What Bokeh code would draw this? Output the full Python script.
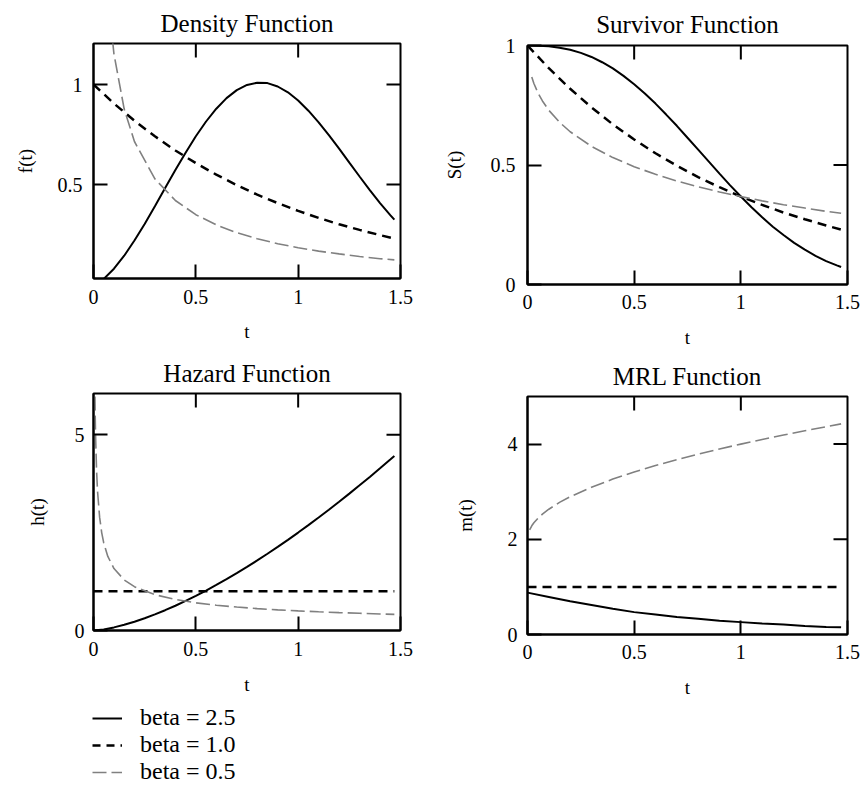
import math
from bokeh.plotting import figure
from bokeh.layouts import column, row
from bokeh.models import (FixedTicker, LinearAxis, Range1d, Legend, LegendItem,
                          CustomJSTickFormatter)
from bokeh.embed import file_html
from bokeh.resources import INLINE

# ---------------- data ----------------
t = [0.0, 0.1, 0.2, 0.3, 0.4, 0.5, 0.6, 0.7, 0.8, 0.9, 1.0, 1.1, 1.2, 1.3, 1.4, 1.47]
t_fine = [0.0, 0.05, 0.1, 0.15, 0.2, 0.25, 0.3, 0.35, 0.4, 0.45, 0.5, 0.55, 0.6,
          0.65, 0.7, 0.75, 0.8, 0.85, 0.9, 0.95, 1.0, 1.05, 1.1, 1.15, 1.2, 1.25,
          1.3, 1.35, 1.4, 1.45, 1.47]

# Density f(t)
f_b25 = [0.0, 0.028, 0.079, 0.144, 0.220, 0.303, 0.391, 0.482, 0.572, 0.659,
         0.741, 0.815, 0.879, 0.932, 0.972, 0.998, 1.009, 1.007, 0.990, 0.961,
         0.920, 0.869, 0.811, 0.747, 0.679, 0.609, 0.540, 0.472, 0.407, 0.347, 0.324]
f_b10 = [1.0, 0.905, 0.819, 0.741, 0.670, 0.607, 0.549, 0.497, 0.449, 0.407,
         0.368, 0.333, 0.301, 0.273, 0.247, 0.230]
t_f_b05 = [0.05, 0.07, 0.1, 0.15, 0.2, 0.3, 0.4, 0.5, 0.6, 0.7, 0.8, 0.9,
           1.0, 1.1, 1.2, 1.3, 1.4, 1.47]
f_b05 = [1.788, 1.450, 1.152, 0.877, 0.715, 0.528, 0.420, 0.349, 0.298, 0.259,
         0.229, 0.204, 0.184, 0.167, 0.153, 0.140, 0.129, 0.123]

# Survivor S(t)
S_b25 = [1.0, 0.999, 0.997, 0.991, 0.982, 0.969, 0.952, 0.930, 0.904, 0.873,
         0.838, 0.799, 0.757, 0.711, 0.664, 0.614, 0.564, 0.514, 0.464, 0.415,
         0.368, 0.323, 0.281, 0.242, 0.207, 0.174, 0.146, 0.120, 0.098, 0.080, 0.073]
S_b10 = [1.0, 0.905, 0.819, 0.741, 0.670, 0.607, 0.549, 0.497, 0.449, 0.407,
         0.368, 0.333, 0.301, 0.273, 0.247, 0.230]
t_S_b05 = [0.02, 0.03, 0.05, 0.07, 0.1, 0.15, 0.2, 0.3, 0.4, 0.5, 0.6, 0.7,
           0.8, 0.9, 1.0, 1.1, 1.2, 1.3, 1.4, 1.47]
S_b05 = [0.868, 0.841, 0.800, 0.768, 0.729, 0.679, 0.639, 0.578, 0.531, 0.493,
         0.461, 0.433, 0.409, 0.387, 0.368, 0.350, 0.334, 0.320, 0.306, 0.298]

# Hazard h(t)
h_b25 = [0.0, 0.028, 0.079, 0.145, 0.224, 0.313, 0.411, 0.518, 0.632, 0.755,
         0.884, 1.020, 1.162, 1.310, 1.464, 1.624, 1.789, 1.959, 2.134, 2.315,
         2.500, 2.690, 2.884, 3.083, 3.286, 3.494, 3.706, 3.921, 4.141, 4.365, 4.456]
h_b10 = [1.0, 1.0, 1.0, 1.0, 1.0, 1.0, 1.0, 1.0, 1.0, 1.0,
         1.0, 1.0, 1.0, 1.0, 1.0, 1.0]
t_h_b05 = [0.006, 0.008, 0.01, 0.015, 0.02, 0.03, 0.04, 0.05, 0.07, 0.1, 0.15,
           0.2, 0.3, 0.4, 0.5, 0.6, 0.7, 0.8, 0.9, 1.0, 1.1, 1.2, 1.3, 1.4, 1.47]
h_b05 = [6.455, 5.590, 5.0, 4.082, 3.536, 2.887, 2.5, 2.236, 1.890, 1.581, 1.291,
         1.118, 0.913, 0.791, 0.707, 0.645, 0.598, 0.559, 0.527, 0.500, 0.477,
         0.456, 0.439, 0.423, 0.412]

# Mean residual life m(t)
m_b25 = [0.88, 0.79, 0.70, 0.62, 0.54, 0.47, 0.42, 0.37, 0.33, 0.29,
         0.26, 0.23, 0.21, 0.18, 0.16, 0.15]
m_b10 = [1.0, 1.0, 1.0, 1.0, 1.0, 1.0, 1.0, 1.0, 1.0, 1.0,
         1.0, 1.0, 1.0, 1.0, 1.0, 1.0]
t_m_b05 = [0.01, 0.02, 0.03, 0.05, 0.07, 0.1, 0.15, 0.2, 0.3, 0.4, 0.5, 0.6,
           0.7, 0.8, 0.9, 1.0, 1.1, 1.2, 1.3, 1.4, 1.47]
m_b05 = [2.200, 2.283, 2.346, 2.447, 2.529, 2.632, 2.775, 2.894, 3.095, 3.265,
         3.414, 3.549, 3.673, 3.789, 3.897, 4.000, 4.098, 4.191, 4.280, 4.366, 4.425]

x_ticks = [0, 0.5, 1, 1.5]
legend_labels = ["beta = 2.5", "beta = 1.0", "beta = 0.5"]

# ---------------- styling ----------------
FONT = "Liberation Serif"
S25 = dict(line_color="black", line_width=2)
S10 = dict(line_color="black", line_width=2.5, line_dash="9 6")
S05 = dict(line_color="#808080", line_width=1.6, line_dash="14 5")
TICK_LEN = 14

fmt = CustomJSTickFormatter(code="return tick.toString();")


def style_axis(ax, label_standoff, axis_label_standoff):
    ax.axis_line_width = 2
    ax.axis_line_color = "black"
    ax.major_tick_in = TICK_LEN
    ax.major_tick_out = 0
    ax.major_tick_line_width = 2
    ax.minor_tick_in = 0
    ax.minor_tick_out = 0
    ax.major_label_text_font = FONT
    ax.major_label_text_font_size = "20px"
    ax.major_label_text_color = "black"
    ax.major_label_standoff = label_standoff
    ax.axis_label_text_font = FONT
    ax.axis_label_text_font_size = "19px"
    ax.axis_label_text_font_style = "normal"
    ax.axis_label_text_color = "black"
    ax.axis_label_standoff = axis_label_standoff


def panel(title, ylabel, yr, yticks, inner_yticks, w, h, bl, br, bt, bb,
          title_standoff, xs, xls, ys, yls):
    p = figure(width=w, height=h, x_range=Range1d(0, 1.5), y_range=Range1d(*yr),
               toolbar_location=None, output_backend="svg",
               x_axis_location=None, y_axis_location=None,
               min_border_left=bl, min_border_right=br,
               min_border_top=bt, min_border_bottom=bb, title=title)
    p.title.align = "center"
    p.title.text_font = FONT
    p.title.text_font_size = "25px"
    p.title.text_font_style = "normal"
    p.title.text_color = "black"
    p.title.standoff = title_standoff
    p.xgrid.visible = False
    p.ygrid.visible = False
    p.outline_line_color = "black"
    p.outline_line_width = 2
    p.background_fill_color = "white"
    p.border_fill_color = "white"

    xb = LinearAxis(ticker=FixedTicker(ticks=x_ticks), formatter=fmt, axis_label="t")
    style_axis(xb, xs, xls)
    p.add_layout(xb, "below")

    yl = LinearAxis(ticker=FixedTicker(ticks=yticks), formatter=fmt, axis_label=ylabel)
    style_axis(yl, ys, yls)
    p.add_layout(yl, "left")

    # inward tick marks on the top and right edges of the frame
    inner_x = [x for x in x_ticks if 0 < x < 1.5]
    p.scatter(inner_x, [yr[1]] * len(inner_x), marker="dash", size=2 * TICK_LEN,
              angle=math.pi / 2, line_color="black", line_width=2)
    p.scatter([1.5] * len(inner_yticks), inner_yticks, marker="dash",
              size=2 * TICK_LEN, line_color="black", line_width=2)
    return p


# Density  (frame 42..278)
p1 = panel("Density Function", "f(t)", (0.03, 1.205), [0.5, 1], [0.5, 1],
           440, 349, 93, 40, 42, 71, 14, 11, 14, 11, 19)
p1.line(t_fine, f_b25, **S25)
p1.line(t, f_b10, **S10)
p1.line(t_f_b05, f_b05, **S05)

# Survivor (frame 45..284)
p2 = panel("Survivor Function", "S(t)", (0, 1), [0, 0.5, 1], [0.5],
           427, 354, 86, 19, 45, 70, 15, 10, 15, 12, 23)
p2.line(t_fine, S_b25, **S25)
p2.line(t, S_b10, **S10)
p2.line(t_S_b05, S_b05, **S05)

# Hazard (frame 393..630)
p3 = panel("Hazard Function", "h(t)", (0, 6.05), [0, 5], [5],
           440, 353, 93, 40, 44, 72, 13, 11, 15, 9, 24)
p3.line(t_fine, h_b25, **S25)
p3.line(t, h_b10, **S10)
p3.line(t_h_b05, h_b05, **S05)

# MRL (frame 395..634)
p4 = panel("MRL Function", "m(t)", (0, 5.0), [0, 2, 4], [2, 4],
           427, 348, 83, 20, 41, 68, 13, 10, 15, 10, 29)
p4.line(t, m_b25, **S25)
p4.line(t, m_b10, **S10)
p4.line(t_m_b05, m_b05, **S05)

# Legend figure (the data lines sit outside its visible range; only the legend shows)
pl = figure(width=867, height=86, x_range=Range1d(10, 11), y_range=Range1d(10, 11),
            toolbar_location=None, output_backend="svg",
            x_axis_location=None, y_axis_location=None, min_border=0)
pl.xgrid.visible = False
pl.ygrid.visible = False
pl.outline_line_color = None
r1 = pl.line(t, m_b25, **S25)
r2 = pl.line(t, m_b10, line_color="black", line_width=2.5, line_dash="8 6")
r3 = pl.line(t_m_b05, m_b05, line_color="#808080", line_width=1.6, line_dash="14 5")
legend = Legend(items=[LegendItem(label=legend_labels[0], renderers=[r1]),
                       LegendItem(label=legend_labels[1], renderers=[r2]),
                       LegendItem(label=legend_labels[2], renderers=[r3])],
                location=(92, 3), glyph_width=30, glyph_height=20,
                label_standoff=18, spacing=0, padding=0, margin=0,
                label_text_font=FONT, label_text_font_size="24px",
                label_text_color="black",
                label_height=20, border_line_alpha=0, background_fill_alpha=0)
pl.add_layout(legend)

layout = column(row(column(p1, p3), column(p2, p4)), pl)

open("out.html", "w").write(file_html(layout, INLINE))
